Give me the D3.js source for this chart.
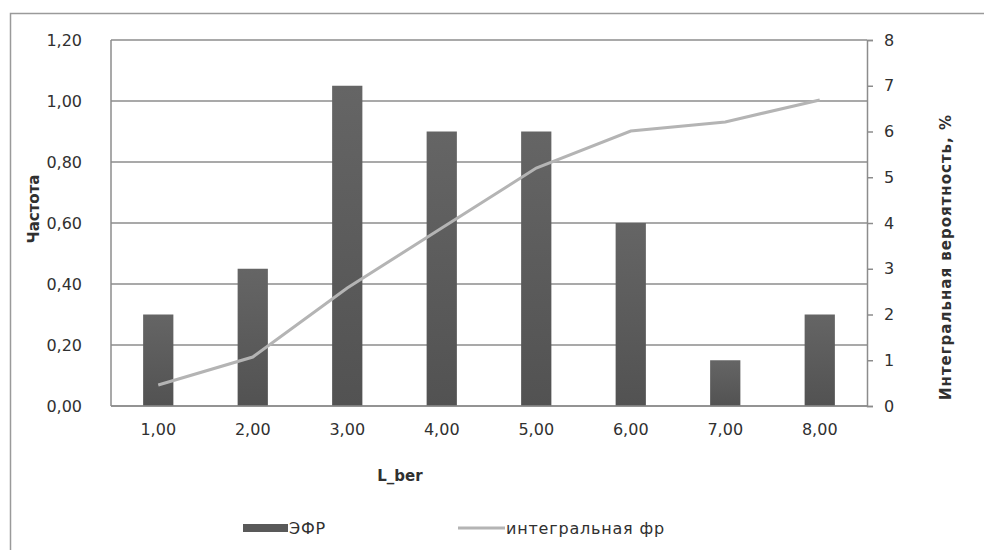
<!DOCTYPE html>
<html><head><meta charset="utf-8">
<script src="https://cdn.jsdelivr.net/npm/d3@7/dist/d3.min.js"></script>
<style>
html,body{margin:0;padding:0;background:#fff;}
text{font-family:"DejaVu Sans",Verdana,sans-serif;fill:#303030;}
</style></head>
<body><svg id="c" width="984" height="550"></svg>
<script>
const categories = [1, 2, 3, 4, 5, 6, 7, 8];
const freqValues = [0.30, 0.45, 1.05, 0.90, 0.90, 0.60, 0.15, 0.30];
const cumValues = [0.46, 1.07, 2.58, 3.89, 5.20, 6.01, 6.21, 6.69];
const leftTicks = [0, 0.2, 0.4, 0.6, 0.8, 1.0, 1.2];
const rightTicks = [0, 1, 2, 3, 4, 5, 6, 7, 8];
const seriesNames = ["ЭФР", "интегральная фр"];
const xTitle = "L_ber", yTitle = "Частота", y2Title = "Интегральная вероятность, %";

const svg = d3.select("#c");
const m = {l:111, r:867, t:40, b:406};
const comma2 = v => d3.format(".2f")(v).replace(".", ",");

// outer frame
svg.append("path").attr("d","M10.5,550 V13.5 H984").attr("fill","none").attr("stroke","#9a9a9a").attr("stroke-width",1.5);

const x = d3.scaleBand().domain(categories).range([m.l, m.r]).paddingInner(0.68).paddingOuter(0.34);
const y = d3.scaleLinear().domain([0, 1.2]).range([m.b, m.t]);
const y2 = d3.scaleLinear().domain([0, 8]).range([m.b, m.t]);

// gridlines
svg.append("g").selectAll("line").data(leftTicks).join("line")
  .attr("x1", m.l).attr("x2", m.r).attr("y1", d=>y(d)).attr("y2", d=>y(d))
  .attr("stroke","#8c8c8c").attr("stroke-width",1.5);

// gradient
const defs = svg.append("defs");
const g = defs.append("linearGradient").attr("id","bg").attr("x1",0).attr("y1",0).attr("x2",0).attr("y2",1);
g.append("stop").attr("offset","0%").attr("stop-color","#656565");
g.append("stop").attr("offset","100%").attr("stop-color","#525252");

svg.append("g").selectAll("rect").data(categories).join("rect")
  .attr("x", d=>x(d)).attr("width", x.bandwidth())
  .attr("y", (d,i)=>y(freqValues[i])).attr("height", (d,i)=>y(0)-y(freqValues[i]))
  .attr("fill","url(#bg)");

// line
const line = d3.line().x((d,i)=>x(categories[i])+x.bandwidth()/2).y(d=>y2(d));
svg.append("path").datum(cumValues).attr("d", line).attr("fill","none")
  .attr("stroke","#b4b4b4").attr("stroke-width",3);

// axes
const axL = svg.append("g").attr("transform",`translate(${m.l},0)`)
  .call(d3.axisLeft(y).tickValues(leftTicks).tickSize(0).tickPadding(29).tickFormat(comma2));
const axR = svg.append("g").attr("transform",`translate(${m.r},0)`)
  .call(d3.axisRight(y2).tickValues(rightTicks).tickSize(6).tickPadding(11).tickFormat(d3.format("d")));
const axB = svg.append("g").attr("transform",`translate(0,${m.b})`)
  .call(d3.axisBottom(x).tickSize(0).tickPadding(18).tickFormat(comma2));
[axL, axR, axB].forEach(a=>{
  a.selectAll("path.domain").attr("stroke","#8c8c8c").attr("stroke-width",1.5);
  a.selectAll(".tick line").attr("stroke","#8c8c8c").attr("stroke-width",1.5);
  a.selectAll("text").attr("font-size",16).attr("fill","#303030").style("font-family","'DejaVu Sans',Verdana,sans-serif");
});
axL.select("path.domain").attr("d",`M0,${m.t}V${m.b}`);
axB.select("path.domain").attr("d",`M${m.l},0H${m.r}`);

// titles
svg.append("text").attr("x",400).attr("y",481).attr("text-anchor","middle")
  .attr("font-size",15).attr("font-weight","bold").text(xTitle);
svg.append("text").attr("transform","translate(39,209) rotate(-90)").attr("text-anchor","middle")
  .attr("font-size",15).attr("font-weight","bold").text(yTitle);
svg.append("text").attr("transform","translate(951,257) rotate(-90)").attr("text-anchor","middle")
  .attr("font-size",15).attr("font-weight","bold").attr("letter-spacing",1).text(y2Title);

// legend
const lg = svg.append("g");
lg.append("rect").attr("x",243).attr("y",524).attr("width",45).attr("height",8).attr("fill","#595959");
lg.append("text").attr("x",289).attr("y",534).attr("font-size",16).attr("letter-spacing",0.8).text(seriesNames[0]);
lg.append("line").attr("x1",458).attr("x2",505).attr("y1",528).attr("y2",528).attr("stroke","#b4b4b4").attr("stroke-width",3);
lg.append("text").attr("x",506).attr("y",534).attr("font-size",16).attr("letter-spacing",0.8).text(seriesNames[1]);
</script></body></html>
